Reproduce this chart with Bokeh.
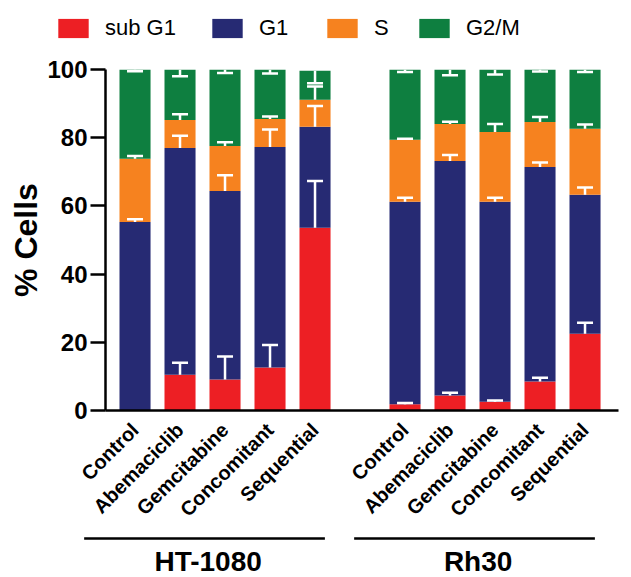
import numpy as np
from math import pi
from bokeh.plotting import figure
from bokeh.models import (ColumnDataSource, Range1d, FixedTicker, Whisker, TeeHead,
                          Legend, LegendItem)
from bokeh.layouts import column
from bokeh.embed import file_html
from bokeh.resources import INLINE
from bokeh.core.properties import value

# ---------------- data ----------------
treatments = ["Control", "Abemaciclib", "Gemcitabine", "Concomitant", "Sequential"]
cell_lines = ["HT-1080", "Rh30"]
phases = ["sub G1", "G1", "S", "G2/M"]

# mean % cells per phase (HT-1080 x5, then Rh30 x5)
sub_g1 = [0.0, 10.5, 9.1, 12.6, 53.6, 1.8, 4.4, 2.6, 8.5, 22.5]
g1 = [55.3, 66.5, 55.3, 64.7, 29.6, 59.4, 68.8, 58.6, 62.9, 40.8]
s_phase = [18.5, 8.2, 13.2, 8.2, 7.9, 18.2, 10.8, 20.5, 13.2, 19.3]
g2m = [26.2, 14.8, 22.4, 14.5, 8.5, 20.6, 16.0, 18.3, 15.4, 17.4]

# error (SD) per phase
sub_g1_err = [0.0, 3.5, 6.7, 6.6, 13.7, 0.4, 0.8, 0.3, 1.1, 3.2]
g1_err = [0.8, 3.6, 4.6, 5.1, 6.1, 1.2, 1.7, 1.2, 1.3, 2.1]
s_err = [0.8, 1.7, 1.1, 0.7, 3.9, 0.3, 0.7, 2.3, 1.5, 1.3]
g2m_err = [0.5, 2.0, 1.0, 1.2, 3.6, 0.7, 1.7, 1.5, 0.6, 0.7]

y_ticks = [0, 20, 40, 60, 80, 100]

colors = ["#ED1F24", "#262A73", "#F6821F", "#0E7F40"]
FONT = "Liberation Sans"

# ---------------- positions ----------------
n_t = len(treatments)
gap = 1
xpos = []
labels = []
for gi, cl in enumerate(cell_lines):
    for ti, t in enumerate(treatments):
        xpos.append(gi * (n_t + gap) + ti)
        labels.append(t)

keys = ["sub_g1", "g1", "s", "g2m"]
src = ColumnDataSource(dict(x=xpos, sub_g1=sub_g1, g1=g1, s=s_phase, g2m=g2m))

W = 623

# ---------------- legend strip ----------------
p0 = figure(width=W, height=48, output_backend="svg", toolbar_location=None,
            x_range=Range1d(0, 1), y_range=Range1d(0, 1),
            x_axis_location=None, y_axis_location=None, min_border=0)
p0.frame_align = False
p0.outline_line_color = None
p0.grid.visible = False
# legend-only renderers (kept outside the visible range)
dummy = [p0.vbar(x=[5], top=[1], width=1, color=c, line_color=None) for c in colors]
leg_x = [54, 208, 323, 415]
for r, name, lx in zip(dummy, phases, leg_x):
    lg = Legend(items=[LegendItem(label=name, renderers=[r])], location=(lx, 7),
                orientation="horizontal", padding=0, margin=0, border_line_color=None,
                background_fill_alpha=0, glyph_width=38, glyph_height=24,
                label_standoff=13, label_text_font=FONT, label_text_font_size="22px",
                label_text_color="black", label_height=19, label_text_baseline="middle")
    p0.add_layout(lg)

# ---------------- main plot ----------------
p = figure(width=W, height=485, output_backend="svg", toolbar_location=None,
           x_range=Range1d(-0.656, 10.744), y_range=Range1d(0, 100),
           min_border_left=105, min_border_right=5, min_border_top=21,
           min_border_bottom=123)
p.frame_align = False
p.outline_line_color = None
p.grid.visible = False
p.background_fill_color = "white"

rs = p.vbar_stack(keys, x="x", width=0.69, source=src, color=colors, line_color=None)

# error bars (upward from each segment top; G2/M downward from stack top)
cum = np.zeros(len(xpos))
tops = []
for arr in [sub_g1, g1, s_phase, g2m]:
    cum = cum + np.array(arr)
    tops.append(cum.copy())

up_x, up_lo, up_hi = [], [], []
for top, err in zip(tops[:3], [sub_g1_err, g1_err, s_err]):
    for xi, t, e in zip(xpos, top, err):
        if e > 0:
            up_x.append(xi)
            up_lo.append(t)
            up_hi.append(t + e)
usrc = ColumnDataSource(dict(x=up_x, lo=up_lo, hi=up_hi))
p.add_layout(Whisker(source=usrc, base="x", lower="lo", upper="hi", dimension="height",
                     line_color="white", line_width=2.5, level="overlay",
                     upper_head=TeeHead(size=16, line_color="white", line_width=2.5),
                     lower_head=None))

dsrc = ColumnDataSource(dict(x=xpos, lo=list(tops[3] - np.array(g2m_err)), hi=list(tops[3])))
p.add_layout(Whisker(source=dsrc, base="x", lower="lo", upper="hi", dimension="height",
                     line_color="white", line_width=2.5, level="overlay",
                     lower_head=TeeHead(size=16, line_color="white", line_width=2.5),
                     upper_head=None))

# axes
p.yaxis.ticker = FixedTicker(ticks=y_ticks)
p.yaxis.axis_label = "% Cells"
p.yaxis.axis_label_text_font = FONT
p.yaxis.axis_label_text_font_size = "32px"
p.yaxis.axis_label_text_font_style = "bold"
p.yaxis.axis_label_text_color = "black"
p.yaxis.axis_label_standoff = 0
p.yaxis.major_label_text_font = FONT
p.yaxis.major_label_text_font_size = "24px"
p.yaxis.major_label_text_font_style = "bold"
p.yaxis.major_label_text_color = "black"
p.yaxis.major_label_standoff = 3
p.yaxis.major_tick_out = 15
p.yaxis.major_tick_in = 0
p.yaxis.minor_tick_out = 0
p.yaxis.minor_tick_in = 0
p.yaxis.axis_line_width = 2.5
p.yaxis.major_tick_line_width = 2.5
p.yaxis.axis_line_color = "black"
p.yaxis.major_tick_line_color = "black"

p.xaxis.ticker = FixedTicker(ticks=xpos)
p.xaxis.major_label_overrides = {x: l for x, l in zip(xpos, labels)}
p.xaxis.major_label_orientation = pi / 4
p.xaxis.major_label_text_font = FONT
p.xaxis.major_label_text_font_size = "20px"
p.xaxis.major_label_text_font_style = "bold"
p.xaxis.major_label_text_color = "black"
p.xaxis.major_label_standoff = 16
p.xaxis.major_tick_out = 0
p.xaxis.major_tick_in = 0
p.xaxis.minor_tick_out = 0
p.xaxis.minor_tick_in = 0
p.xaxis.axis_line_width = 2.5
p.xaxis.axis_line_color = "black"

# ---------------- group labels strip ----------------
p2 = figure(width=W, height=44, output_backend="svg", toolbar_location=None,
            x_range=Range1d(-2.989, 10.856), y_range=Range1d(0, 44),
            x_axis_location=None, y_axis_location=None, min_border=0)
p2.frame_align = False
p2.outline_line_color = None
p2.grid.visible = False
g_start, g_end, g_mid = [], [], []
for gi in range(len(cell_lines)):
    first = gi * (n_t + gap)
    last = first + n_t - 1
    g_start.append(first - 1.13)
    g_end.append(last + 0.22)
    g_mid.append((first - 1.13 + last + 0.22) / 2 + 0.08)
p2.segment(x0=g_start, x1=g_end, y0=[39] * len(cell_lines), y1=[39] * len(cell_lines),
           line_color="black", line_width=2.5)
p2.text(x=g_mid, y=[16] * len(cell_lines), text=cell_lines, text_font=value(FONT),
        text_font_size="28px", text_font_style="bold", text_align="center",
        text_baseline="alphabetic", text_color="black")

layout = column(p0, p, p2)
open("out.html", "w").write(file_html(layout, INLINE))
